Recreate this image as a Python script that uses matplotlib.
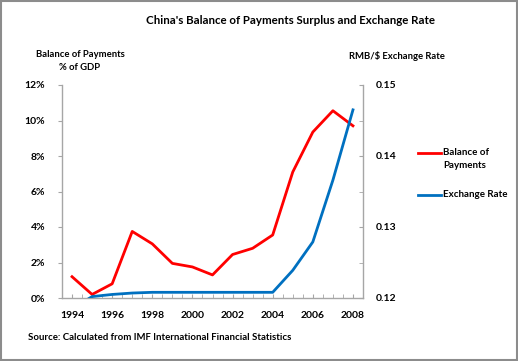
import matplotlib
matplotlib.use('Agg')
import matplotlib.pyplot as plt
from matplotlib.lines import Line2D
from matplotlib.patches import Rectangle
from matplotlib.ticker import MultipleLocator, FuncFormatter

plt.rcParams['font.family'] = ['Lato', 'DejaVu Sans']

years = [1994, 1995, 1996, 1997, 1998, 1999, 2000, 2001,
         2002, 2003, 2004, 2005, 2006, 2007, 2008]
bop = [1.2, 0.2, 0.8, 3.75, 3.05, 1.95, 1.75, 1.3,
       2.45, 2.8, 3.55, 7.1, 9.35, 10.55, 9.7]
fx = [0.1185, 0.1202, 0.1205, 0.1207, 0.1208, 0.1208, 0.1208, 0.1208,
      0.1208, 0.1208, 0.1208, 0.1239, 0.1279, 0.1366, 0.1465]
xlabels = ['1994', '1996', '1998', '2000', '2002', '2004', '2006', '2008']

red = '#ff0000'
blue = '#0070c0'
grey = '#a6a6a6'

fig = plt.figure(figsize=(5.18, 3.61), dpi=100)
ax = fig.add_axes([62 / 518, 63 / 361, 301 / 518, 213 / 361])
ax2 = ax.twinx()

ax.plot(years, bop, color=red, lw=2)
ax2.plot(years, fx, color=blue, lw=2)

ax.set_xlim(1993.5, 2008.5)
ax.set_ylim(0, 12)
ax2.set_ylim(0.12, 0.15)

ax.set_xticks([int(s) for s in xlabels])
ax.set_xticklabels(xlabels)
ax.xaxis.set_minor_locator(MultipleLocator(0.5))
ax.yaxis.set_major_locator(MultipleLocator(2))
ax.yaxis.set_major_formatter(FuncFormatter(lambda v, p: '%d%%' % v))
ax2.yaxis.set_major_locator(MultipleLocator(0.01))
ax2.yaxis.set_minor_locator(MultipleLocator(0.005))
ax2.yaxis.set_major_formatter(FuncFormatter(lambda v, p: '%.2f' % v))

for a in (ax, ax2):
    a.spines['top'].set_visible(False)
    for s in ('left', 'right', 'bottom'):
        a.spines[s].set_color(grey)
        a.spines[s].set_linewidth(1)
ax.spines['right'].set_visible(False)
ax2.spines['left'].set_visible(False)
ax2.spines['bottom'].set_visible(False)

ax.tick_params(axis='x', which='both', direction='in', length=3, color=grey,
               labelsize=7.5, pad=9)
ax.tick_params(axis='y', direction='out', length=3, color=grey, labelsize=7.5, pad=9)
ax2.tick_params(axis='y', which='both', direction='in', length=3, color=grey,
                labelsize=7.5, pad=9)
for lab in ax.get_xticklabels() + ax.get_yticklabels() + ax2.get_yticklabels():
    lab.set_fontweight('bold')

fig.text(290 / 518, 1 - 20 / 361, "China's Balance of Payments Surplus and Exchange Rate",
         ha='center', va='center', fontsize=8.3, fontweight='bold')
fig.text(80 / 518, 1 - 61 / 361, 'Balance of Payments\n% of GDP', ha='center',
         va='center', fontsize=6.8, fontweight='bold', linespacing=1.6)
fig.text(397 / 518, 1 - 56 / 361, 'RMB/$ Exchange Rate', ha='center', va='center',
         fontsize=6.8, fontweight='bold')
fig.text(28 / 518, 1 - 338 / 361,
         'Source: Calculated from IMF International Financial Statistics',
         ha='left', va='center', fontsize=6.9, fontweight='bold')

# legend drawn by hand
fig.add_artist(Line2D([418 / 518, 441 / 518], [1 - 153 / 361, 1 - 153 / 361],
                      color=red, lw=2))
fig.text(443 / 518, 1 - 159 / 361, 'Balance of\nPayments', ha='left', va='center',
         fontsize=7, fontweight='bold', linespacing=1.5)
fig.add_artist(Line2D([418 / 518, 441 / 518], [1 - 195 / 361, 1 - 195 / 361],
                      color=blue, lw=2))
fig.text(443 / 518, 1 - 195 / 361, 'Exchange Rate', ha='left', va='center',
         fontsize=7, fontweight='bold')

fig.add_artist(Rectangle((0.002, 0.003), 0.996, 0.994, transform=fig.transFigure,
                         fill=False, edgecolor='#8c8c8c', lw=1.5))

fig.savefig('out.png', dpi=100)
